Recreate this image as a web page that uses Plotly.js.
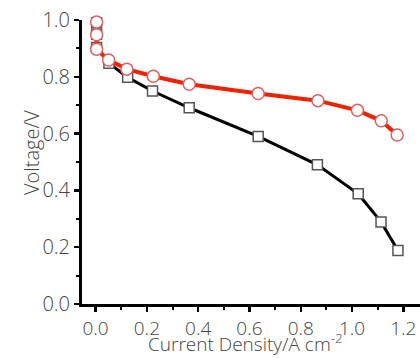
<!DOCTYPE html>
<html>
<head>
<meta charset="utf-8">
<script src="https://cdn.plot.ly/plotly-3.0.1.min.js"></script>
<style>html,body{margin:0;padding:0;background:#fff;}#chart{width:420px;height:358px;}</style>
</head>
<body>
<div id="chart"></div>
<script>
// Black series (squares)
const blackX = [0.004, 0.004, 0.004, 0.052, 0.125, 0.222, 0.365, 0.634, 0.865, 1.024, 1.113, 1.179];
const blackY = [0.990, 0.950, 0.903, 0.848, 0.798, 0.750, 0.691, 0.590, 0.490, 0.388, 0.289, 0.188];
// Red series (circles)
const redX = [0.004, 0.004, 0.004, 0.051, 0.122, 0.225, 0.365, 0.634, 0.867, 1.021, 1.114, 1.176];
const redY = [0.993, 0.948, 0.897, 0.859, 0.827, 0.802, 0.774, 0.741, 0.716, 0.682, 0.645, 0.595];
const xTicks = [0.0, 0.2, 0.4, 0.6, 0.8, 1.0, 1.2];
const yTicks = [0.0, 0.2, 0.4, 0.6, 0.8, 1.0];
const xTitle = 'Current Density/A cm<sup>-2</sup>';
const yTitle = 'Voltage/V';

const fontFam = '"Open Sans", Lato, sans-serif';
const textColor = '#444';
const traces = [
  {x: blackX, y: blackY, mode: 'lines+markers', type: 'scatter', cliponaxis: false,
   line: {color: '#000', width: 3},
   marker: {symbol: 'square', size: 10, color: '#fff', line: {color: '#555', width: 1.5}}},
  {x: redX, y: redY, mode: 'lines+markers', type: 'scatter', cliponaxis: false,
   line: {color: '#ee2200', width: 4},
   marker: {symbol: 'circle', size: 12, color: '#fff', line: {color: '#e06060', width: 1.5}}}
];
const layout = {
  width: 420, height: 358,
  margin: {l: 82, r: 0, t: 20, b: 54},
  showlegend: false,
  paper_bgcolor: '#fff', plot_bgcolor: '#fff',
  font: {family: fontFam, color: textColor, size: 20, weight: 300},
  xaxis: {
    range: [-0.053, 1.265], showgrid: false, zeroline: false,
    showline: true, linecolor: '#000', linewidth: 3,
    tickvals: xTicks, ticktext: xTicks.map(v => v.toFixed(1)),
    ticks: 'outside', ticklen: 5, tickwidth: 2.5, tickcolor: '#000',
    minor: {dtick: 0.1, ticks: 'outside', ticklen: 3, tickwidth: 2, tickcolor: '#000', tick0: 0},
    tickfont: {size: 19, color: textColor, family: fontFam, weight: 300}
  },
  yaxis: {
    range: [0, 1.0], showgrid: false, zeroline: false,
    showline: true, linecolor: '#000', linewidth: 3,
    tickvals: yTicks, ticktext: yTicks.map(v => v.toFixed(1)),
    ticks: 'outside', ticklen: 5, tickwidth: 2.5, tickcolor: '#000',
    minor: {dtick: 0.1, ticks: 'outside', ticklen: 3, tickwidth: 2, tickcolor: '#000', tick0: 0},
    tickfont: {size: 20, color: textColor, family: fontFam, weight: 300}
  },
  annotations: [
    {text: xTitle, xref: 'paper', yref: 'paper', x: 0.485, y: -0.19, xanchor: 'center', yanchor: 'bottom',
     yshift: 0, borderpad: 0, showarrow: false, font: {size: 19, color: textColor, family: fontFam, weight: 300}},
    {text: yTitle, xref: 'paper', yref: 'paper', x: -0.151, y: 0.535, xanchor: 'center', yanchor: 'middle',
     textangle: -90, showarrow: false, font: {size: 20, color: textColor, family: fontFam, weight: 300}}
  ]
};
Plotly.newPlot('chart', traces, layout, {displayModeBar: false, staticPlot: true});
</script>
</body>
</html>
